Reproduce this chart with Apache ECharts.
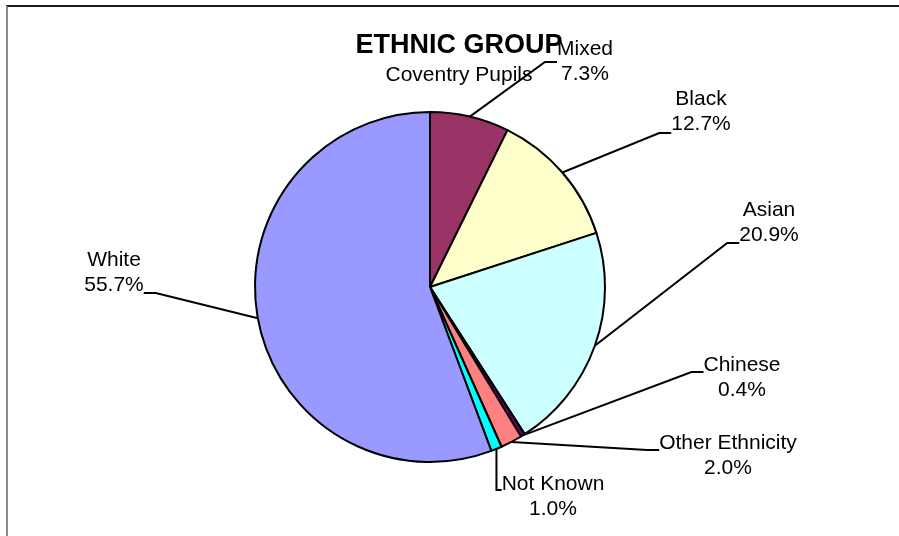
<!DOCTYPE html>
<html>
<head>
<meta charset="utf-8">
<script src="https://cdn.jsdelivr.net/npm/echarts@6/dist/echarts.min.js"></script>
<style>
  html, body { margin: 0; padding: 0; background: #fff; }
  #frame { position: absolute; left: 6px; top: 5px; width: 1000px; height: 1000px;
           border-top: 2px solid #1a1a1a; border-left: 2px solid #8a8a8a; box-sizing: border-box; }
  #chart { position: absolute; left: 0; top: 0; width: 899px; height: 536px; }
</style>
</head>
<body>
<div id="frame"></div>
<div id="chart"></div>
<script>
// ---- data ----
const categories = ['Mixed', 'Black', 'Asian', 'Chinese', 'Other Ethnicity', 'Not Known', 'White'];
const shares = [7.3, 12.7, 20.9, 0.4, 2.0, 1.0, 55.7];
const titleLine1 = 'ETHNIC GROUP';
const titleLine2 = 'Coventry Pupils';

// ---- styling / label placement ----
const colors = ['#993366', '#FFFFCC', '#CCFFFF', '#660066', '#FF8080', '#00FFFF', '#9999FF'];
// [text centre x, text centre y, leader-line attach y]
const labelPlace = {
  'Mixed': [585, 62, 62],
  'Black': [701, 112, 133],
  'Asian': [769, 223, 243],
  'Chinese': [742, 378, 372],
  'Other Ethnicity': [728, 456, 450],
  'Not Known': [553, 497, 490],
  'White': [114, 273, 293]
};
const FONT = '"Liberation Sans", Arial, sans-serif';

// invisible spacer lines shift the leader-line attach point relative to the text
const rich = { t: { fontFamily: FONT, fontSize: 21, lineHeight: 25, color: '#000', align: 'center' } };
function spacer(name) {
  const p = labelPlace[name];
  return 2 * (p[2] - p[1]);
}
categories.forEach(c => {
  const s = Math.abs(spacer(c));
  if (s > 0) rich['s' + s] = { fontSize: 1, lineHeight: s, color: 'rgba(0,0,0,0)' };
});

const chart = echarts.init(document.getElementById('chart'), null, { renderer: 'canvas' });
chart.setOption({
  backgroundColor: 'transparent',
  animation: false,
  graphic: [
    { type: 'text', x: 459, y: 46, z: 1,
      style: { text: titleLine1, font: 'bold 27px ' + FONT, fill: '#000', align: 'center', verticalAlign: 'middle' } },
    { type: 'text', x: 459, y: 75, z: 1,
      style: { text: titleLine2, font: '21px ' + FONT, fill: '#000', align: 'center', verticalAlign: 'middle' } }
  ],
  series: [{
    type: 'pie',
    center: [430, 287],
    radius: 175,
    startAngle: 90,
    clockwise: true,
    avoidLabelOverlap: false,
    z: 2,
    data: categories.map((c, i) => ({ name: c, value: shares[i], itemStyle: { color: colors[i] } })),
    itemStyle: { borderColor: '#000', borderWidth: 2 },
    emphasis: { disabled: true },
    label: {
      show: true,
      position: 'outside',
      color: '#000',
      fontFamily: FONT,
      fontSize: 21,
      lineHeight: 25,
      align: 'center',
      rich: rich,
      formatter: function (p) {
        let s = '{t|' + p.name + '}\n{t|' + p.value.toFixed(1) + '%}';
        const sp = spacer(p.name);
        if (sp > 0) s = s + '\n{s' + sp + '| }';
        else if (sp < 0) s = '{s' + (-sp) + '| }\n' + s;
        return s;
      }
    },
    labelLine: {
      show: true,
      length: 10,
      length2: 12,
      smooth: false,
      lineStyle: { color: '#000', width: 2 }
    },
    labelLayout: function (params) {
      const name = categories[params.dataIndex];
      const pos = labelPlace[name];
      return { x: pos[0], y: pos[2], align: 'center', verticalAlign: 'middle' };
    }
  }]
});
</script>
</body>
</html>
